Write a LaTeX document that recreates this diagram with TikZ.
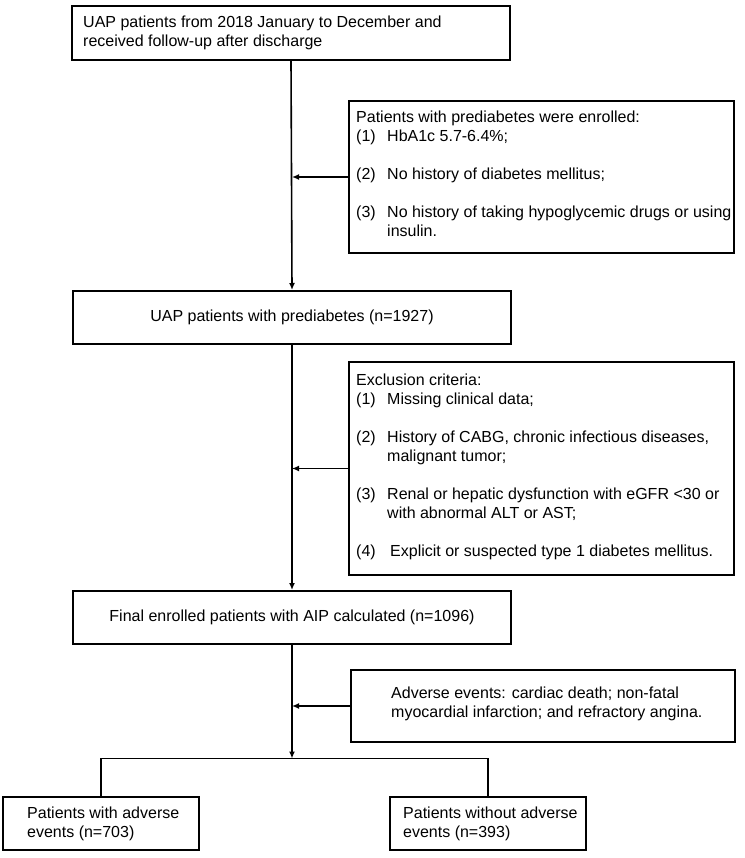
\documentclass[tikz,border=0pt]{standalone}
\usepackage{fontspec}
\setmainfont{Liberation Sans}
\usetikzlibrary{arrows.meta}
\newcommand\hn[1]{\makebox[31pt][l]{#1}}
\newcommand\hc{\hspace*{31pt}}
\begin{document}
\begin{tikzpicture}[x=1pt,y=-1pt,
  box/.style={draw, line width=2pt, inner sep=0pt},
  txt/.style={inner sep=0pt, align=left, anchor=west, font=\fontsize{16}{19}\selectfont},
  ctxt/.style={font=\fontsize{16}{19}\selectfont},
  arr/.style={line width=1.6pt, -{Latex[length=7pt,width=6pt]}},
  ln/.style={line width=1.6pt}]
\useasboundingbox (0,0) rectangle (744,858);

% main boxes
\node[box, minimum width=438pt, minimum height=54pt] (b1) at (291,33) {};
\node[txt] (b1t) at ([xshift=12pt]b1.west) {UAP patients from 2018 January to December and\\received follow-up after discharge};

\node[box, minimum width=438pt, minimum height=53pt, ctxt] (b2) at (292,317.5) {UAP patients with prediabetes (n=1927)};

\node[box, minimum width=438pt, minimum height=53pt, ctxt] (fin) at (292,617.5) {Final enrolled patients with AIP calculated (n=1096)};

% side boxes
\node[box, minimum width=385pt, minimum height=152pt] (inc) at (541.5,177) {};
\node[txt, yshift=3pt] (inct) at ([xshift=8pt]inc.west) {Patients with prediabetes were enrolled:\\
\hn{(1)}HbA1c 5.7-6.4\%;\\[19pt]
\hn{(2)}No history of diabetes mellitus;\\[19pt]
\hn{(3)}No history of taking hypoglycemic drugs or using\\
\hc insulin.};

\node[box, minimum width=385pt, minimum height=213pt] (exc) at (541.5,468.5) {};
\node[txt, yshift=2pt] (exct) at ([xshift=8pt]exc.west) {Exclusion criteria:\\
\hn{(1)}Missing clinical data;\\[19pt]
\hn{(2)}History of CABG, chronic infectious diseases,\\
\hc malignant tumor;\\[19pt]
\hn{(3)}Renal or hepatic dysfunction with eGFR <30 or\\
\hc with abnormal ALT or AST;\\[19pt]
\makebox[34pt][l]{(4)}Explicit or suspected type 1 diabetes mellitus.};

\node[box, minimum width=384pt, minimum height=72pt] (adv) at (543,706) {};
\node[txt, yshift=2pt] (advt) at ([xshift=41pt]adv.west) {Adverse events: cardiac death; non-fatal\\myocardial infarction; and refractory angina.};

% bottom boxes
\node[box, minimum width=196pt, minimum height=53pt] (lft) at (101,823.5) {};
\node[txt] (lftt) at ([xshift=25pt]lft.west) {Patients with adverse\\events (n=703)};

\node[box, minimum width=196pt, minimum height=53pt] (rgt) at (488,823.5) {};
\node[txt] (rgtt) at ([xshift=14pt]rgt.west) {Patients without adverse\\events (n=393)};

% connectors
\coordinate (split) at (292,758.5);
\draw[arr] (b1.south) -- (b2.north);
\draw[arr] (b2.south) -- (fin.north);
\draw[arr] (fin.south) -- (split);
\draw[arr] (inc.west) -- (inc.west -| b2.south);
\draw[arr] (exc.west) -- (exc.west -| b2.south);
\draw[arr] (adv.west) -- (adv.west -| b2.south);
\draw[ln] (lft.north) |- (split) -| (rgt.north);
\end{tikzpicture}
\end{document}
